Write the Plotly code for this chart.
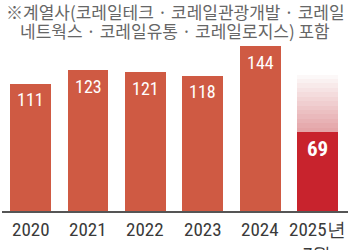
import plotly.graph_objects as go

years = ["2020", "2021", "2022", "2023", "2024", "2025년<br>7월"]
values = [111, 123, 121, 118, 144, 69]
ghost_top = 123  # faded projection bar for 2025

title_lines = ["※계열사(코레일테크 · 코레일관광개발 · 코레일",
               "네트웍스 · 코레일유통 · 코레일로지스) 포함"]
source_text = "(자료 : 정을기 더불어민주당 의원실"

bar_color = "#cf5a43"
last_color = "#c8232d"
FONT = "Liberation Sans Narrow, Roboto Condensed, Roboto, sans-serif"
KFONT = "Noto Sans CJK KR, sans-serif"

fig = go.Figure()
colors = [bar_color] * (len(values) - 1) + [last_color]
fig.add_trace(go.Bar(x=years, y=values, marker=dict(color=colors, line=dict(width=0)),
                     hoverinfo="skip", showlegend=False))

# gradient ghost segments stacked above the 2025 bar
n = 14
seg = (ghost_top - values[-1]) / n
for i in range(n):
    t = i / (n - 1)
    r = int(228 + (255 - 228) * t)
    g = int(165 + (255 - 165) * t)
    b = int(168 + (255 - 168) * t)
    yv = [0] * (len(values) - 1) + [seg]
    fig.add_trace(go.Bar(x=years, y=yv,
                         marker=dict(color=f"rgb({r},{g},{b})", line=dict(width=0)),
                         hoverinfo="skip", showlegend=False))

for i, v in enumerate(values):
    last = i == len(values) - 1
    fig.add_annotation(x=i, y=v, xref="x", yref="y",
                       text=f"<b>{v}</b>" if last else str(v),
                       showarrow=False, yanchor="middle", yshift=-16 if not last else -17,
                       font=dict(family=FONT, size=18 if not last else 21, color="white"))

# category labels below the axis
for i, yr in enumerate(years):
    fig.add_annotation(x=i, y=0, xref="x", yref="y", text=yr, showarrow=False,
                       yanchor="top", yshift=-5, align="center",
                       font=dict(family=FONT, size=19, color="#3a3a3a"))

for k, line in enumerate(title_lines):
    fig.add_annotation(x=0.5, y=1, xref="paper", yref="paper", yanchor="middle",
                       yshift=-11 - 19 * k, text=line, showarrow=False,
                       font=dict(family=KFONT, size=17, color="#666666"))
fig.add_annotation(x=0.025, y=0, xref="paper", yref="paper", xanchor="left", yanchor="top",
                   yshift=-33, text=source_text, showarrow=False,
                   font=dict(family=KFONT, size=17.5, color="#777777"))

fig.update_layout(
    width=350, height=250, barmode="stack", bargap=0.29,
    margin=dict(l=2, r=2, t=0, b=39),
    paper_bgcolor="white", plot_bgcolor="white",
    xaxis=dict(type="category", showgrid=False, showline=True, linecolor="#555555",
               linewidth=1.5, ticks="", showticklabels=False, fixedrange=True),
    yaxis=dict(range=[0, 184.3], visible=False, fixedrange=True),
)
fig.write_html("out.html", config={"displayModeBar": False})
